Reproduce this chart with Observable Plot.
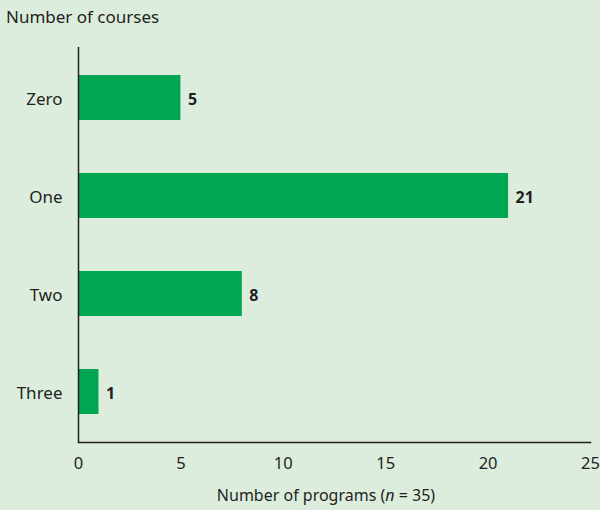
<!DOCTYPE html>
<html>
<head>
<meta charset="utf-8">
<script src="https://cdn.jsdelivr.net/npm/d3@7"></script>
<script src="https://cdn.jsdelivr.net/npm/@observablehq/plot@0.6"></script>
<style>
  html, body { margin: 0; padding: 0; background: #dcedde; }
  #wrap { position: relative; width: 600px; height: 510px; background: #dcedde; font-family: "Noto Sans", sans-serif; color: #231f20; }
  #title { position: absolute; left: 6px; top: 5px; font-size: 17px; }
  svg { display: block; }
</style>
</head>
<body>
<div id="wrap">
  <div id="chart"></div>
  <div id="title">Number of courses</div>
</div>
<script>
const categories = ["Zero", "One", "Two", "Three"];
const programs = [5, 21, 8, 1];
const xTicks = [0, 5, 10, 15, 20, 25];

const data = categories.map((c, i) => ({course: c, n: programs[i]}));

const chart = Plot.plot({
  width: 600,
  height: 510,
  marginTop: 47,
  marginBottom: 68,
  marginLeft: 78,
  marginRight: 10,
  style: {background: "transparent", fontFamily: "Noto Sans, sans-serif", fontSize: "16px", color: "#231f20"},
  x: {domain: [0, 25], ticks: xTicks, label: null},
  y: {domain: categories, paddingInner: 0.54, paddingOuter: 0.27, label: null},
  marks: [
    Plot.barX(data, {x: "n", y: "course", fill: "#00a651"}),
    Plot.text(data, {x: "n", y: "course", text: d => String(d.n), textAnchor: "start", dx: 7, dy: 2, fontWeight: "bold", fontSize: 16, fill: "#231f20"}),
    Plot.axisX({ticks: xTicks, tickSize: 0, tickPadding: 15, label: null, fontSize: 16.5}),
    Plot.axisY({tickSize: 0, tickPadding: 16, dy: 2, label: null, fontSize: 17}),
    Plot.ruleX([0], {stroke: "#231f20", strokeWidth: 1.5}),
    Plot.frame({anchor: "bottom", stroke: "#231f20", strokeWidth: 1.5})
  ]
});
document.getElementById("chart").appendChild(chart);

// x-axis label with italic n
const xs = chart.scale("x").range;
const svg = d3.select(chart);
const t = svg.append("text")
  .attr("x", (xs[0] + xs[1]) / 2 - 8)
  .attr("y", 501)
  .attr("text-anchor", "middle")
  .attr("fill", "#231f20")
  .style("font-size", "16px");
t.append("tspan").text("Number of programs (");
t.append("tspan").attr("font-style", "italic").text("n");
t.append("tspan").text(" = 35)");
</script>
</body>
</html>
